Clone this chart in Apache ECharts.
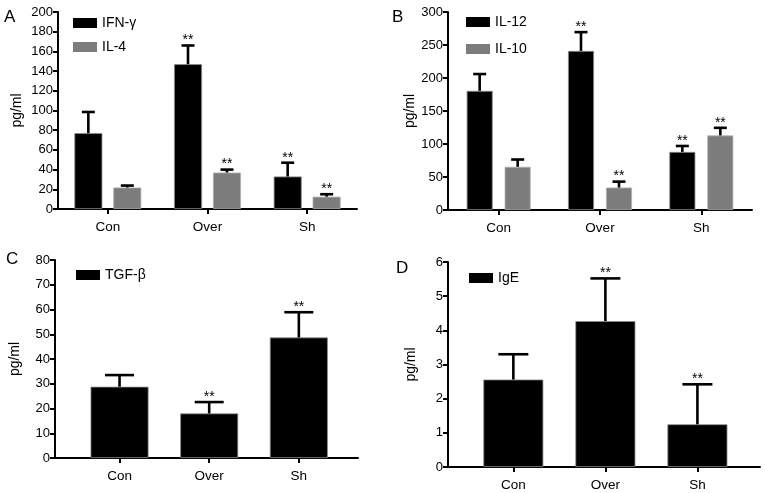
<!DOCTYPE html>
<html>
<head>
<meta charset="utf-8">
<script src="https://cdn.jsdelivr.net/npm/echarts@6/dist/echarts.min.js"></script>
<style>
html, body { margin: 0; padding: 0; background: #fff; }
#chart { width: 765px; height: 493px; }
</style>
</head>
<body>
<div id="chart"></div>
<script>
var groups = ['Con', 'Over', 'Sh'];

// panel A
var ifnG = [77, 147, 33];
var ifnGErr = [98.5, 166, 47];
var ifnGStars = ['', '**', '**'];
var il4 = [21.8, 37, 12.5];
var il4Err = [23.8, 40, 15];
var il4Stars = ['', '**', '**'];
// panel B
var il12 = [180.5, 241, 88];
var il12Err = [206, 269.5, 97];
var il12Stars = ['', '**', '**'];
var il10 = [65.5, 34, 113];
var il10Err = [76.5, 43, 124.5];
var il10Stars = ['', '**', '**'];
// panel C
var tgfB = [28.8, 18, 48.7];
var tgfBErr = [33.5, 22.6, 58.9];
var tgfBStars = ['', '**', '**'];
// panel D
var ige = [2.56, 4.27, 1.25];
var igeErr = [3.3, 5.52, 2.42];
var igeStars = ['', '**', '**'];

var font = 'Liberation Sans';

function yAx (grid, max, step, gap) {
  return {
    type: 'value', gridIndex: grid, min: 0, max: max, interval: step,
    name: 'pg/ml', nameLocation: 'middle', nameGap: gap,
    nameTextStyle: { color: '#000', fontSize: 14, fontFamily: font },
    axisLine: { show: true, onZero: false, lineStyle: { color: '#000', width: 2 } },
    axisTick: { show: true, length: 5, lineStyle: { color: '#000', width: 2 } },
    axisLabel: { color: '#000', fontSize: 13, fontFamily: font, margin: 5 },
    splitLine: { show: false }
  };
}

function xCat (grid) {
  return {
    type: 'category', gridIndex: grid, data: groups,
    axisLine: { show: true, onZero: false, lineStyle: { color: '#000', width: 2 } },
    axisTick: { show: true, alignWithLabel: true, length: 5, lineStyle: { color: '#000', width: 2 } },
    axisLabel: { color: '#000', fontSize: 13.5, fontFamily: font, margin: 11 }
  };
}

function xVal (grid, min, max) {
  return {
    type: 'value', gridIndex: grid, min: min, max: max,
    axisLine: { show: true, onZero: false, lineStyle: { color: '#000', width: 2 } },
    axisTick: { show: true, customValues: [0, 1, 2], length: 5, lineStyle: { color: '#000', width: 2 } },
    axisLabel: {
      customValues: [0, 1, 2], color: '#000', fontSize: 13.5, fontFamily: font, margin: 11,
      formatter: function (v) { return groups[Math.round(v)]; }
    },
    splitLine: { show: false }
  };
}

function errBars (idx, vals, errs, stars, shift, capW) {
  return {
    type: 'custom', xAxisIndex: idx, yAxisIndex: idx, z: 5,
    data: vals.map(function (v, i) { return [i, errs[i], v]; }),
    renderItem: function (params, api) {
      var top = api.coord([api.value(0), api.value(1)]);
      var base = api.coord([api.value(0), api.value(2)]);
      var x = top[0] + shift;
      var kids = [
        { type: 'line', shape: { x1: x, y1: base[1], x2: x, y2: top[1] }, style: { stroke: '#000', lineWidth: 2.6 } },
        { type: 'line', shape: { x1: x - capW / 2, y1: top[1], x2: x + capW / 2, y2: top[1] }, style: { stroke: '#000', lineWidth: 2.6 } }
      ];
      var s = stars[params.dataIndex];
      if (s) {
        kids.push({ type: 'text', style: { text: s, x: x, y: top[1] - 5, align: 'center', verticalAlign: 'middle', font: '14px ' + font, fill: '#000' } });
      }
      return { type: 'group', children: kids };
    }
  };
}

function legendAt (names, left, top, gap) {
  return {
    data: names, left: left, top: top, orient: 'vertical', icon: 'rect', padding: 0,
    itemWidth: 24, itemHeight: 10, itemGap: gap, selectedMode: false,
    itemStyle: { borderWidth: 0 },
    textStyle: { color: '#000', fontSize: 14, fontFamily: font }
  };
}

var blackBar = { color: '#000', borderColor: '#8a8a8a', borderWidth: 0.8 };
var greyBar = { color: '#7c7c7c', borderColor: '#b0b0b0', borderWidth: 0.8 };

var chart = echarts.init(document.getElementById('chart'));
chart.setOption({
  animation: false,
  textStyle: { fontFamily: font },
  grid: [
    { left: 58, top: 12, width: 299, height: 197 },
    { left: 448, top: 12, width: 304, height: 198 },
    { left: 55, top: 260, width: 303, height: 198 },
    { left: 448, top: 262, width: 312, height: 205 }
  ],
  xAxis: [xCat(0), xCat(1), xVal(2, -0.72, 2.66), xVal(3, -0.71, 2.68)],
  yAxis: [yAx(0, 200, 20, 34), yAx(1, 300, 50, 30), yAx(2, 80, 10, 33), yAx(3, 6, 1, 30)],
  legend: [
    legendAt(['IFN-γ', 'IL-4'], 73, 16, 10),
    legendAt(['IL-12', 'IL-10'], 466, 15, 13),
    legendAt(['TGF-β'], 76, 268, 10),
    legendAt(['IgE'], 469, 271, 10)
  ],
  graphic: [
    { type: 'text', left: 4, top: 9, style: { text: 'A', font: '17px ' + font, fill: '#000' } },
    { type: 'text', left: 392, top: 9, style: { text: 'B', font: '17px ' + font, fill: '#000' } },
    { type: 'text', left: 6, top: 251, style: { text: 'C', font: '17px ' + font, fill: '#000' } },
    { type: 'text', left: 396, top: 260, style: { text: 'D', font: '17px ' + font, fill: '#000' } }
  ],
  series: [
    { name: 'IFN-γ', type: 'bar', xAxisIndex: 0, yAxisIndex: 0, data: ifnG, barWidth: 28, barGap: '39%', itemStyle: blackBar },
    { name: 'IL-4', type: 'bar', xAxisIndex: 0, yAxisIndex: 0, data: il4, barWidth: 28, barGap: '39%', itemStyle: greyBar },
    errBars(0, ifnG, ifnGErr, ifnGStars, -19.5, 13),
    errBars(0, il4, il4Err, il4Stars, 19.5, 13),

    { name: 'IL-12', type: 'bar', xAxisIndex: 1, yAxisIndex: 1, data: il12, barWidth: 26, barGap: '46%', itemStyle: blackBar },
    { name: 'IL-10', type: 'bar', xAxisIndex: 1, yAxisIndex: 1, data: il10, barWidth: 26, barGap: '46%', itemStyle: greyBar },
    errBars(1, il12, il12Err, il12Stars, -19, 13),
    errBars(1, il10, il10Err, il10Stars, 19, 13),

    { name: 'TGF-β', type: 'bar', xAxisIndex: 2, yAxisIndex: 2, barWidth: 58, itemStyle: blackBar,
      data: tgfB.map(function (v, i) { return [i, v]; }) },
    errBars(2, tgfB, tgfBErr, tgfBStars, 0, 29),

    { name: 'IgE', type: 'bar', xAxisIndex: 3, yAxisIndex: 3, barWidth: 60, itemStyle: blackBar,
      data: ige.map(function (v, i) { return [i, v]; }) },
    errBars(3, ige, igeErr, igeStars, 0, 30)
  ]
});
</script>
</body>
</html>
